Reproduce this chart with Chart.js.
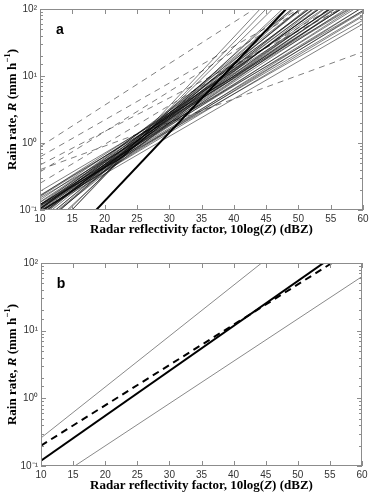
<!DOCTYPE html>
<html>
<head>
<meta charset="utf-8">
<script src="https://cdn.jsdelivr.net/npm/chart.js@4.4.1/dist/chart.umd.min.js"></script>
<style>
  body { margin: 0; background: #fff; }
  canvas { display: block; }
</style>
</head>
<body>
<canvas id="panelA" width="373" height="248"></canvas>
<canvas id="panelB" width="373" height="248"></canvas>
<script>
// x axis: radar reflectivity (dBZ), y axis: rain rate (mm/h), log scale
const dbzRange = [10, 60];
const dbzStep = 5;
const rainRange = [0.1, 100];
const rainTickLabels = { '-1': '10\u207B\u00B9', '0': '10\u2070', '1': '10\u00B9', '2': '10\u00B2' };

// panel a: each Z-R fit given by its rain rate at 10 dBZ and at 60 dBZ
const fitR10 = [0.095, 0.098, 0.115, 0.095, 0.12, 0.102, 0.129, 0.105, 0.132, 0.141,
                0.089, 0.110, 0.091, 0.115, 0.095, 0.120, 0.081, 0.102, 0.083, 0.105,
                0.060, 0.083, 0.072, 0.060, 0.076, 0.055, 0.054, 0.042, 0.038, 0.032,
                0.031, 0.158, 0.166, 0.162, 0.151, 0.19, 0.105, 0.091, 0.105, 0.100,
                0.083, 0.107, 0.095, 0.120, 0.115, 0.120, 0.120, 0.066, 0.063, 0.091];
const fitR60 = [60, 78, 91, 95, 120, 129, 162, 166, 209, 251,
                178, 219, 229, 288, 302, 380, 324, 407, 417, 525,
                380, 525, 575, 603, 759, 776, 1072, 1318, 2138, 3162,
                4365, 158, 132, 204, 95, 135, 148, 204, 295, 355,
                372, 191, 107, 107, 81, 68, 191, 468, 794, 257];
const dashR10 = [0.88, 0.62, 0.47, 0.40, 0.25, 0.37];
const dashR60 = [1100, 350, 148, 23, 200, 370];
const boldR = [0.013, 1630];

// panel b: mean fit, dashed fit and the two bounding lines
const meanR = [0.12, 250];
const dashedR = [0.20, 190];
const upperR = [0.26, 1500];
const lowerR = [0.047, 63];

// axis titles, pieces marked i are italic, s superscript
const xTitle = [['Radar reflectivity factor, 10log('], ['Z', 'i'], [') (dBZ)']];
const yTitle = [['Rain rate, '], ['R', 'i'], [' (mm h'], ['\u22121', 's'], [')']];

function seg(r10, r60) {
  return [{x: dbzRange[0], y: r10}, {x: dbzRange[1], y: r60}];
}

const isDecade = v => Math.abs(Math.log10(v) - Math.round(Math.log10(v))) < 1e-9;
const serif = '"Liberation Serif", "Times New Roman", serif';

function richText(ctx, parts, cx, cy, rot) {
  const fontOf = k => k === 'i' ? 'italic bold 13px ' + serif : k === 's' ? 'bold 9px ' + serif : 'bold 13px ' + serif;
  let w = 0;
  parts.forEach(p => { ctx.font = fontOf(p[1]); w += ctx.measureText(p[0]).width; });
  ctx.save();
  ctx.translate(cx, cy);
  ctx.rotate(rot);
  ctx.fillStyle = '#000';
  ctx.textBaseline = 'middle';
  ctx.textAlign = 'left';
  let x = -w / 2;
  parts.forEach(p => {
    ctx.font = fontOf(p[1]);
    ctx.fillText(p[0], x, p[1] === 's' ? -5 : 0);
    x += ctx.measureText(p[0]).width;
  });
  ctx.restore();
}

const boxTicks = {
  id: 'boxTicks',
  afterDatasetsDraw(chart) {
    const {ctx, chartArea: a, scales: {x, y}} = chart;
    const o = chart.options.plugins.panel;
    ctx.save();
    ctx.strokeStyle = '#8c8c8c';
    ctx.lineWidth = 1;
    ctx.strokeRect(a.left + 0.5, a.top + 0.5, a.right - a.left - 1, a.bottom - a.top - 1);
    ctx.beginPath();
    x.ticks.forEach(t => {
      const px = Math.round(x.getPixelForValue(t.value)) + 0.5;
      ctx.moveTo(px, a.bottom); ctx.lineTo(px, a.bottom - 5);
      ctx.moveTo(px, a.top); ctx.lineTo(px, a.top + 5);
    });
    y.ticks.forEach(t => {
      const py = Math.round(y.getPixelForValue(t.value)) + 0.5;
      const len = isDecade(t.value) ? 5 : 3;
      ctx.moveTo(a.left, py); ctx.lineTo(a.left + len, py);
      ctx.moveTo(a.right, py); ctx.lineTo(a.right - len, py);
    });
    ctx.stroke();
    ctx.fillStyle = '#000';
    ctx.font = 'bold 14px "Liberation Sans", Arial, sans-serif';
    ctx.textAlign = 'center';
    ctx.textBaseline = 'middle';
    ctx.fillText(o.tag, a.left + 20, a.top + 21);
    ctx.restore();
    richText(ctx, xTitle, (a.left + a.right) / 2, a.bottom + 20, 0);
    richText(ctx, yTitle, 12.5, (a.top + a.bottom) / 2, -Math.PI / 2);
  }
};

function makeChart(id, datasets, tag, box) {
  const H = 248;
  new Chart(document.getElementById(id), {
    type: 'line',
    data: { datasets },
    options: {
      responsive: false,
      animation: false,
      devicePixelRatio: 1,
      layout: { padding: { left: 0, right: 373 - box.right, top: box.top, bottom: 0 } },
      elements: { point: { radius: 0 }, line: { tension: 0 } },
      plugins: { legend: { display: false }, tooltip: { enabled: false }, panel: { tag } },
      scales: {
        x: {
          type: 'linear', min: dbzRange[0], max: dbzRange[1],
          grid: { display: false, drawTicks: false }, border: { display: false },
          ticks: { stepSize: dbzStep, padding: 3, color: '#333',
                   font: { family: '"Liberation Sans", Arial, sans-serif', size: 10 } },
          afterFit: s => { s.height = H - box.bottom; }
        },
        y: {
          type: 'logarithmic', min: rainRange[0], max: rainRange[1],
          grid: { display: false, drawTicks: false }, border: { display: false },
          ticks: { autoSkip: false, padding: 3, color: '#333',
                   font: { family: '"Liberation Sans", Arial, sans-serif', size: 10 },
                   callback: v => isDecade(v) ? rainTickLabels[Math.round(Math.log10(v))] : '' },
          afterFit: s => { s.width = box.left; }
        }
      }
    },
    plugins: [boxTicks]
  });
}

const gray = 'rgba(0,0,0,0.5)';
const setA = [{ data: seg(boldR[0], boldR[1]), borderColor: '#000', borderWidth: 2 }];
dashR10.forEach((r, i) => setA.push({ data: seg(r, dashR60[i]), borderColor: gray, borderWidth: 1, borderDash: [6, 5] }));
fitR10.forEach((r, i) => setA.push({ data: seg(r, fitR60[i]), borderColor: gray, borderWidth: 1 }));

const setB = [
  { data: seg(meanR[0], meanR[1]), borderColor: '#000', borderWidth: 2 },
  { data: seg(dashedR[0], dashedR[1]), borderColor: '#000', borderWidth: 2, borderDash: [7, 5] },
  { data: seg(upperR[0], upperR[1]), borderColor: '#8a8a8a', borderWidth: 1 },
  { data: seg(lowerR[0], lowerR[1]), borderColor: '#8a8a8a', borderWidth: 1 }
];

makeChart('panelA', setA, 'a', { left: 40, right: 363, top: 6, bottom: 210 });
makeChart('panelB', setB, 'b', { left: 41, right: 362, top: 15, bottom: 218 });
</script>
</body>
</html>
